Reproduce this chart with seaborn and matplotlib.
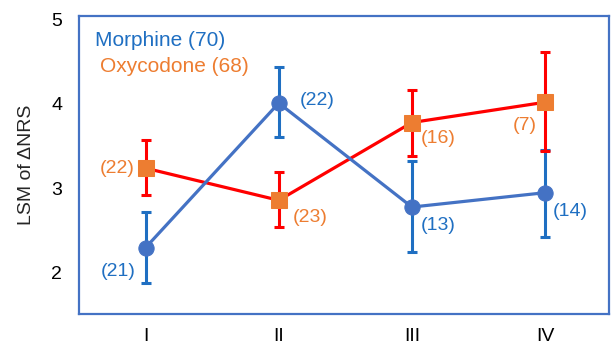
import matplotlib
matplotlib.use("Agg")
import matplotlib.pyplot as plt
import seaborn as sns
import pandas as pd
import numpy as np

# Stage categories
stages = ["I", "II", "III", "IV"]

# Least-squares means of ΔNRS and their error bar limits
morphine_lsm = [2.30, 4.01, 2.78, 2.95]
morphine_low = [1.88, 3.61, 2.25, 2.43]
morphine_high = [2.72, 4.44, 3.33, 3.46]
morphine_n = [21, 22, 13, 14]

oxycodone_lsm = [3.24, 2.86, 3.78, 4.02]
oxycodone_low = [2.92, 2.54, 3.38, 3.44]
oxycodone_high = [3.57, 3.19, 4.17, 4.62]
oxycodone_n = [22, 23, 16, 7]

group_labels = ["Morphine (70)", "Oxycodone (68)"]

# Styling
BLUE_LINE = "#4472C4"
BLUE_BAR = "#1F6FC2"
BLUE_TEXT = "#1F6FC2"
RED_LINE = "#FF0000"
ORANGE = "#ED7D31"

sns.set_theme(style="white")
plt.rcParams["font.family"] = ["Liberation Sans", "DejaVu Sans"]

fig = plt.figure(figsize=(6.11, 3.44), dpi=100)
ax = fig.add_axes([79 / 611, 1 - 314 / 344, (609 - 79) / 611, (314 - 16) / 344])

df = pd.DataFrame({
    "stage": stages * 2,
    "x": list(range(len(stages))) * 2,
    "lsm": oxycodone_lsm + morphine_lsm,
    "low": oxycodone_low + morphine_low,
    "high": oxycodone_high + morphine_high,
    "group": [group_labels[1]] * 4 + [group_labels[0]] * 4,
})

oxy = df[df["group"] == group_labels[1]]
mor = df[df["group"] == group_labels[0]]

# Error bars
ax.errorbar(mor["x"], mor["lsm"],
            yerr=[mor["lsm"] - mor["low"], mor["high"] - mor["lsm"]],
            fmt="none", ecolor=BLUE_BAR, elinewidth=2.2, capsize=3.6,
            capthick=2.2, zorder=2)
ax.errorbar(oxy["x"], oxy["lsm"],
            yerr=[oxy["lsm"] - oxy["low"], oxy["high"] - oxy["lsm"]],
            fmt="none", ecolor=RED_LINE, elinewidth=2.2, capsize=3.6,
            capthick=2.2, zorder=3)

# Lines with markers
sns.lineplot(data=oxy, x="x", y="lsm", ax=ax, color=RED_LINE, linewidth=2.3,
             marker="s", markersize=11, markerfacecolor=ORANGE,
             markeredgecolor=ORANGE, legend=False, zorder=4)
sns.lineplot(data=mor, x="x", y="lsm", ax=ax, color=BLUE_LINE, linewidth=2.3,
             marker="o", markersize=11, markerfacecolor=BLUE_LINE,
             markeredgecolor=BLUE_LINE, legend=False, zorder=5)

# Sample size labels next to each point (offsets in pixels)
mor_offsets = [(-27, -24), (38, 3), (26, -18), (25, -19)]
oxy_offsets = [(-28, 0), (31, -17), (26, -16), (-20, -23)]
for i, (n, off) in enumerate(zip(morphine_n, mor_offsets)):
    ax.annotate(f"({n})", (i, morphine_lsm[i]), xytext=off,
                textcoords="offset pixels", ha="center", va="center",
                fontsize=14, color=BLUE_TEXT, zorder=6)
for i, (n, off) in enumerate(zip(oxycodone_n, oxy_offsets)):
    ax.annotate(f"({n})", (i, oxycodone_lsm[i]), xytext=off,
                textcoords="offset pixels", ha="center", va="center",
                fontsize=14, color=ORANGE, zorder=6)

# Group captions
ax.text(95 / 611, 1 - 40 / 344, group_labels[0], transform=fig.transFigure,
        ha="left", va="center", fontsize=15, color=BLUE_TEXT)
ax.text(100 / 611, 1 - 67 / 344, group_labels[1], transform=fig.transFigure,
        ha="left", va="center", fontsize=15, color=ORANGE)

ax.set_xlim(-0.5, 3.48)
ax.set_ylim(1.515, 5.04)
ax.set_xticks(range(len(stages)))
ax.set_xticklabels(stages)
ax.set_yticks([2, 3, 4, 5])
ax.tick_params(axis="both", length=0, labelsize=14, colors="black")
ax.tick_params(axis="x", pad=10)
ax.tick_params(axis="y", pad=12)
ax.set_xlabel("")
ax.set_ylabel("LSM of ΔNRS", fontsize=14, labelpad=12)

for side in ["left", "right", "top", "bottom"]:
    ax.spines[side].set_visible(True)
    ax.spines[side].set_color(BLUE_LINE)
    ax.spines[side].set_linewidth(1.6)

fig.savefig("out.png", dpi=100, facecolor="white")
